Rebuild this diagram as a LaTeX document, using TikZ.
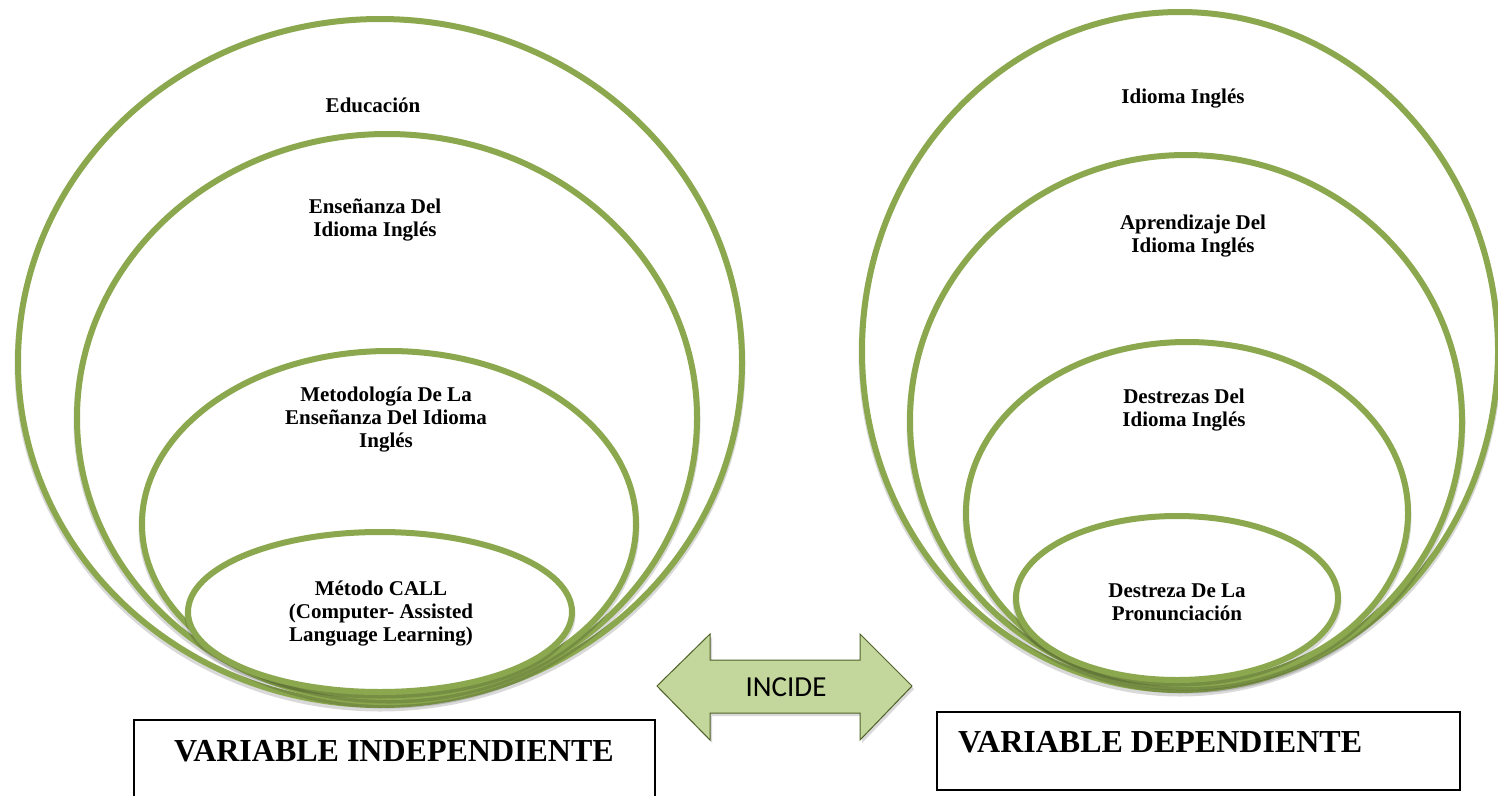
\documentclass[tikz,border=0pt]{standalone}
\usepackage{fontspec}
\setmainfont{Liberation Serif}
\newfontfamily\incfont{Carlito}
\usetikzlibrary{shapes.geometric}
\definecolor{ringc}{HTML}{8BA84F}
\definecolor{arrowfill}{HTML}{C3D69B}
\definecolor{arrowline}{HTML}{4F6228}
\begin{document}
\begin{tikzpicture}[x=1pt,y=-1pt,
  ring/.style={ellipse, draw=ringc, line width=6pt, fill=white, inner sep=0pt, outer sep=0pt,
    preaction={draw=black, draw opacity=0.15, line width=7pt, transform canvas={yshift=-3pt}}},
  lbl/.style={font=\bfseries\fontsize{21}{23}\selectfont, align=center, inner sep=0pt},
  varbox/.style={draw=black, line width=1.2pt, fill=white, inner sep=0pt},
  vartxt/.style={font=\bfseries\fontsize{32}{36}\selectfont, inner sep=0pt}
]
\useasboundingbox[fill=white] (0,0) rectangle (1498,795);

% left group
\node[ring, minimum width=724, minimum height=686] (L1) at (380,362) {};
\node[ring, minimum width=620, minimum height=568] (L2) at (387,418) {};
\node[ring, minimum width=494, minimum height=346] (L3) at (389,524) {};
\node[ring, minimum width=384, minimum height=160] (L4) at (380,612) {};

% right group
\node[ring, minimum width=636, minimum height=678] (R1) at (1180,351) {};
\node[ring, minimum width=552, minimum height=532] (R2) at (1186,421) {};
\node[ring, minimum width=442, minimum height=342] (R3) at (1187,513) {};
\node[ring, minimum width=322, minimum height=164] (R4) at (1177,598) {};

% labels
\node[lbl] (tL1) at (373,105) {Educación};
\node[lbl] (tL2) at (375,220) {Enseñanza Del\\Idioma Inglés};
\node[lbl] (tL3) at (386,420) {Metodología De La\\Enseñanza Del Idioma\\Inglés};
\node[lbl] (tL4) at (381,614) {Método CALL\\(Computer- Assisted\\Language Learning)};
\node[lbl] (tR1) at (1183,99) {Idioma Inglés};
\node[lbl] (tR2) at (1193,236) {Aprendizaje Del\\Idioma Inglés};
\node[lbl] (tR3) at (1184,410) {Destrezas Del\\Idioma Inglés};
\node[lbl] (tR4) at (1177,602) {Destreza De La\\Pronunciación};

% double arrow
\fill[black, opacity=0.15] (659,689) -- ++(53,-52) -- ++(0,26) -- ++(150,0) -- ++(0,-26) -- ++(52,52) -- ++(-52,54) -- ++(0,-27) -- ++(-150,0) -- ++(0,27) -- cycle;
\draw[arrowline, fill=arrowfill, line width=1pt, line join=miter]
  (657,686) -- (710,634) -- (710,660) -- (860,660) -- (860,634) -- (912,686)
  -- (860,740) -- (860,713) -- (710,713) -- (710,740) -- cycle;
\node[font=\incfont\fontsize{29}{32}\selectfont, inner sep=0pt] (inc) at (786,687) {INCIDE};

% boxes
\node[varbox, minimum width=521, minimum height=84] (BL) at (394.5,762) {};
\node[vartxt] (tBL) at (394,751) {VARIABLE INDEPENDIENTE};
\node[varbox, minimum width=523, minimum height=78] (BR) at (1198.5,751) {};
\node[vartxt, anchor=west] (tBR) at (958,742) {VARIABLE DEPENDIENTE};
\end{tikzpicture}
\end{document}
